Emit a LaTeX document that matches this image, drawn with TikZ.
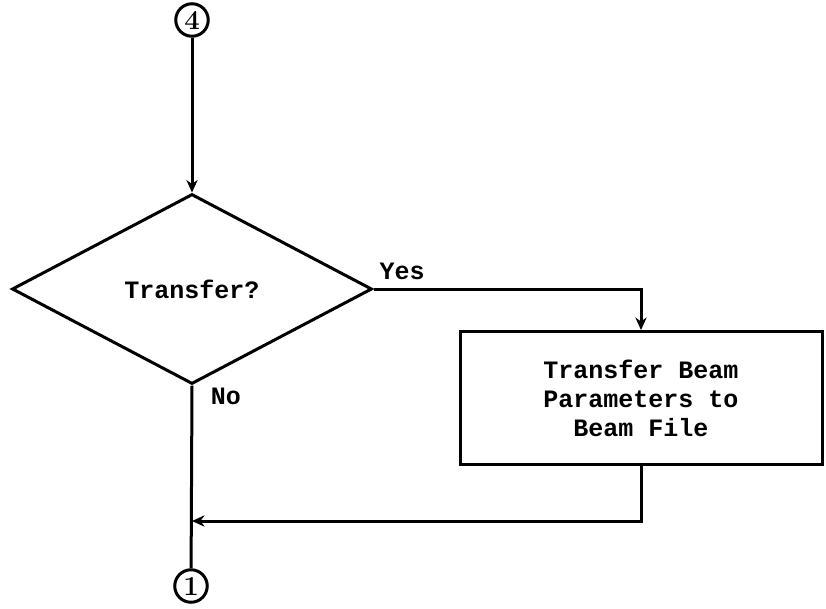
\documentclass[tikz,border=0pt]{standalone}
\usepackage{fontspec}
\setmonofont{Liberation Mono}
\usetikzlibrary{shapes.geometric,arrows.meta}
\begin{document}
\begin{tikzpicture}[x=0.4pt,y=-0.4pt, line width=1.2pt,
    >={Stealth[length=5pt,width=4.5pt]},
    decision/.style={diamond,draw,inner sep=0pt,minimum width=144pt,minimum height=76pt,
      font=\ttfamily\bfseries\fontsize{10}{11.6}\selectfont},
    process/.style={rectangle,draw,inner sep=0pt,minimum width=144.8pt,minimum height=53.2pt,
      align=center,font=\ttfamily\bfseries\fontsize{10}{11.6}\selectfont},
    connector/.style={circle,draw,inner sep=0pt,minimum size=13pt,
      font=\bfseries\fontsize{11}{11}\selectfont},
    tag/.style={font=\ttfamily\bfseries\fontsize{10}{11.6}\selectfont}]
  \useasboundingbox (0,0) rectangle (826,608);
  % Nodes
  \node[connector] (c4) at (192,20) {4};
  \node[decision] (dec) at (192,289) {Transfer?};
  \node[process] (move) at (641,398) {Transfer Beam\\Parameters to\\Beam File};
  \node[connector] (c1) at (191,586) {1};
  \coordinate (merge) at (192,521);
  % Labels
  \node[tag] (yes) at (402,271) {Yes};
  \node[tag] (no) at (226,396) {No};
  % Edges
  \draw[->] (c4) -- (dec.north);
  \draw[->] (dec.east) -| (move.north);
  \draw (dec.south) -- (c1);
  \draw[->] (move.south) |- (merge);
\end{tikzpicture}
\end{document}
